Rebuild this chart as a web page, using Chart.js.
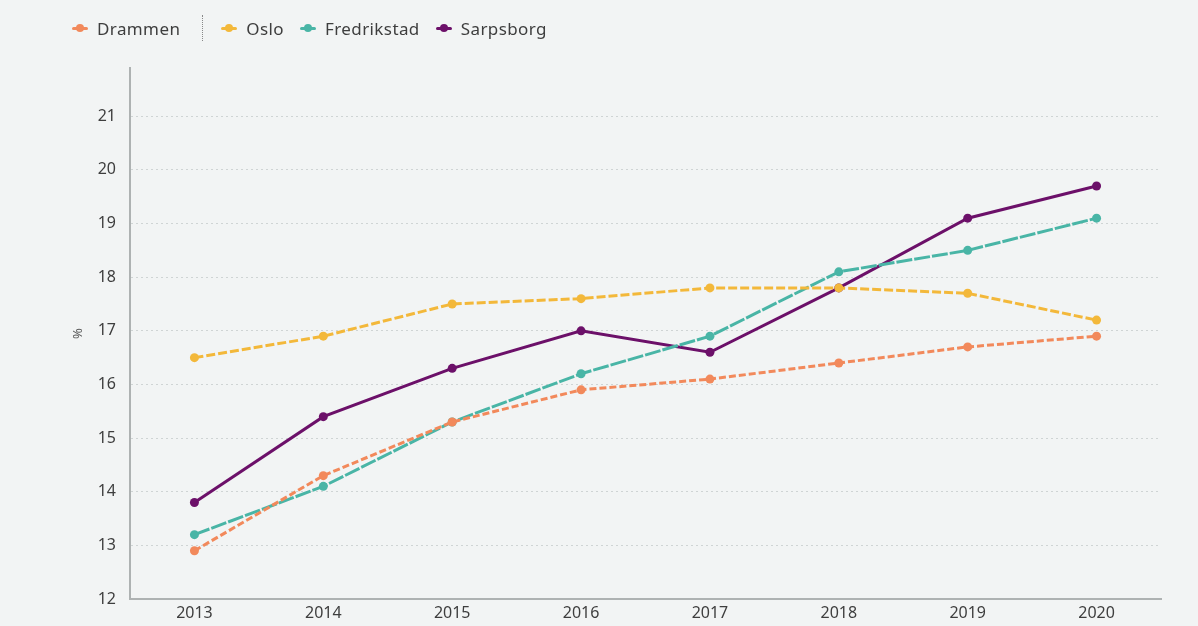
<!DOCTYPE html>
<html>
<head>
<meta charset="utf-8">
<script src="https://cdn.jsdelivr.net/npm/chart.js@4"></script>
<style>
  html, body { margin: 0; padding: 0; background: #f2f4f4; }
  #wrap { position: relative; width: 1198px; height: 626px; }
  canvas { position: absolute; left: 0; top: 0; }
  #legend { position: absolute; left: 72px; top: 15px; display: flex; align-items: center;
            font-family: "Noto Sans", sans-serif; font-size: 17px; letter-spacing: 0.4px; color: #3e3e3e; }
  .item { display: flex; align-items: center; margin-right: 16px; }
  .mark { position: relative; width: 16px; height: 3px; margin-right: 9px; border-radius: 2px; }
  .mark::after { content: ""; position: absolute; left: 4px; top: -3px; width: 8px; height: 8px;
                 border-radius: 50%; background: inherit; }
  .sep { width: 0; height: 26px; border-left: 1px dotted #888; margin: 0 18px 0 6px; }
</style>
</head>
<body>
<div id="wrap">
  <canvas id="chart" width="1198" height="626"></canvas>
  <div id="legend"></div>
</div>
<script>
const years = ['2013', '2014', '2015', '2016', '2017', '2018', '2019', '2020'];
const drammen = [12.9, 14.3, 15.3, 15.9, 16.1, 16.4, 16.7, 16.9];
const oslo = [16.5, 16.9, 17.5, 17.6, 17.8, 17.8, 17.7, 17.2];
const fredrikstad = [13.2, 14.1, 15.3, 16.2, 16.9, 18.1, 18.5, 19.1];
const sarpsborg = [13.8, 15.4, 16.3, 17.0, 16.6, 17.8, 19.1, 19.7];

const series = [
    { label: 'Drammen', data: drammen, color: '#f2895b', dash: [7, 3] },
    { label: 'Oslo', data: oslo, color: '#f3b83a', dash: [9, 3] },
    { label: 'Fredrikstad', data: fredrikstad, color: '#49b5a6', dash: [16, 2] },
    { label: 'Sarpsborg', data: sarpsborg, color: '#6c1069', dash: [] }
];

// legend
const legendEl = document.getElementById('legend');
series.forEach((s, i) => {
    const item = document.createElement('div');
    item.className = 'item';
    const mark = document.createElement('span');
    mark.className = 'mark';
    mark.style.background = s.color;
    const txt = document.createElement('span');
    txt.textContent = s.label;
    item.appendChild(mark);
    item.appendChild(txt);
    legendEl.appendChild(item);
    if (i === 0) {
        const sep = document.createElement('div');
        sep.className = 'sep';
        legendEl.appendChild(sep);
    }
});

const ctx = document.getElementById('chart').getContext('2d');
new Chart(ctx, {
    type: 'line',
    data: {
        labels: years,
        datasets: series.map(s => ({
            label: s.label,
            data: s.data,
            borderColor: s.color,
            backgroundColor: s.color,
            borderWidth: 3,
            borderDash: s.dash,
            pointRadius: 4.5,
            pointHoverRadius: 4.5,
            pointBackgroundColor: s.color,
            pointBorderWidth: 0,
            tension: 0
        }))
    },
    options: {
        responsive: false,
        animation: false,
        layout: { padding: { left: 70, right: 37, top: 68, bottom: 0 } },
        plugins: {
            legend: { display: false },
            tooltip: { enabled: false }
        },
        scales: {
            x: {
                offset: true,
                grid: { display: false, drawTicks: false },
                border: { color: '#aeb2b2', width: 2 },
                ticks: {
                    color: '#3e3e3e',
                    padding: 5,
                    font: { family: 'Noto Sans', size: 16 }
                },
                afterFit: scale => { scale.height = 27; }
            },
            y: {
                min: 12,
                max: 21.9,
                afterBuildTicks: scale => {
                    scale.ticks = scale.ticks.filter(t => Number.isInteger(t.value));
                },
                ticks: {
                    stepSize: 1,
                    color: '#3e3e3e',
                    padding: 14,
                    font: { family: 'Noto Sans', size: 16 }
                },
                grid: {
                    drawTicks: false,
                    color: ctx => ctx.tick && ctx.tick.value === 12 ? 'rgba(0,0,0,0)' : '#cfd4d4',
                    lineWidth: 1
                },
                border: { color: '#aeb2b2', width: 2, dash: [2, 3] },
                title: {
                    display: true,
                    text: '%',
                    color: '#555',
                    padding: 0,
                    font: { family: 'Noto Sans', size: 13 }
                },
                afterFit: scale => { scale.width = 60; }
            }
        }
    }
});
</script>
</body>
</html>
